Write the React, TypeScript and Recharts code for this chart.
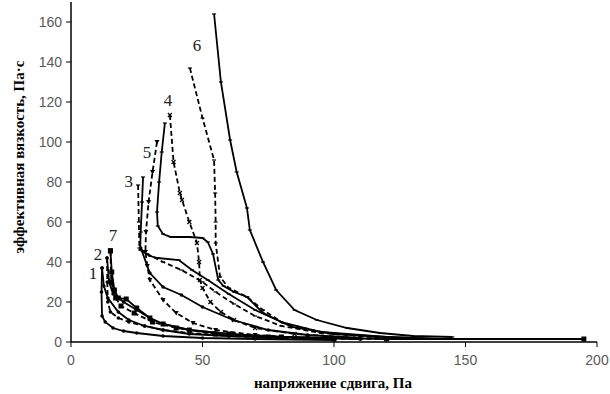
import { ComposedChart, Line, XAxis, YAxis, ReferenceDot, Label } from 'recharts'

type Pt = { x: number; y: number }
const pts = (arr: number[][]): Pt[] => arr.map(([x, y]) => ({ x, y }))

// sample 1
const curve1a = pts([[11.8, 37], [11.6, 25], [11.8, 13], [13, 10], [16, 7], [20, 5.5], [25, 4.5], [35, 3], [50, 2], [70, 1.5], [100, 1]])
const curve1b = pts([[11.8, 37], [12.5, 28], [14, 22], [18, 15], [22, 11], [28, 8], [35, 6], [45, 4], [60, 3], [80, 2]])
// sample 2
const curve2a = pts([[13.7, 42], [13.8, 30], [14, 20], [15, 15], [18, 12], [22, 10], [28, 8], [35, 6], [45, 4.5], [60, 3], [80, 2], [110, 1.5]])
const curve2b = pts([[13.7, 42], [14.5, 30], [16, 24], [20, 20], [25, 16], [30, 12], [35, 9], [45, 6], [60, 4], [80, 2.5], [110, 1.5]])
// sample 7
const curve7a = pts([[15, 45.6], [15.5, 35], [16.5, 26], [18, 22], [21, 21.5], [25, 17], [30, 12], [35, 9], [45, 6], [60, 4], [80, 2.5], [120, 1.5], [195, 1.5]])
const curve7b = pts([[15, 45.6], [15.3, 30], [17, 22], [19, 18], [24, 14.5], [31, 10], [40, 7], [55, 4], [75, 2.5], [100, 1.5]])
// sample 3
const curve3a = pts([[27.4, 82.5], [27, 70], [26.5, 55], [26.3, 46], [30, 43], [33, 42], [41, 41], [46, 36], [52, 31], [60, 24], [70, 16], [80, 10], [95, 5], [120, 2.5], [140, 1.5]])
const curve3b = pts([[25.5, 78.5], [25.8, 60], [26, 47], [29, 44], [35, 40], [42, 36], [50, 30], [55, 25], [62, 19], [70, 13], [80, 8], [95, 4.5], [120, 2]])
const curve3c = pts([[26.5, 47], [30, 34.5], [35, 27.5], [42, 23.5], [50, 17.5], [61.6, 11], [75, 6], [90, 3.5], [110, 2]])
// sample 5
const curve5 = pts([[32.7, 100], [31, 85], [29.5, 70], [28.5, 55], [28.3, 45], [29, 38], [30, 31], [35, 21], [40, 14.5], [46.4, 9.5], [55, 6], [70, 3.5], [90, 2], [120, 1.5]])
// sample 4
const curve4a = pts([[37.6, 113.5], [39, 90], [41.4, 74.5], [42.2, 71], [45, 60], [47.9, 49.5], [48.7, 40], [49, 31], [50, 27], [53, 20], [57, 15], [62, 11], [70, 7], [85, 4], [110, 2]])
const curve4b = pts([[35.7, 109.5], [34.5, 95], [33.5, 80], [32.7, 65], [33, 58], [35, 54], [38, 52.5], [45, 52.5], [50, 52], [52, 50], [54, 44], [56, 31], [58, 28], [62, 25], [67, 22.5], [73, 14.5], [84, 7.5], [100, 4], [120, 2.5], [140, 1.5]])
// sample 6
const curve6a = pts([[54.4, 164], [57, 130], [60.5, 101], [63, 85], [66.9, 67], [68, 56], [73, 40], [78, 26], [85, 16], [93.5, 11], [105, 7], [117.5, 4.5], [130, 3], [145, 2.5]])
const curve6b = pts([[45.2, 137], [50, 112], [54.4, 91], [54.8, 74.5], [55, 60], [55, 49.5], [56.7, 32.5], [60, 27], [67, 22.5], [73, 16], [80.6, 9.5], [95, 5], [115, 2.5], [135, 1.5]])

const X_TICKS = [0, 50, 100, 150, 200]
const Y_TICKS = [0, 20, 40, 60, 80, 100, 120, 140, 160]

const CURVE_LABELS = [
  { text: '1', x: 8.4, y: 34.5 },
  { text: '2', x: 10.3, y: 44 },
  { text: '7', x: 16, y: 53.5 },
  { text: '3', x: 22, y: 80.5 },
  { text: '5', x: 28.9, y: 95 },
  { text: '4', x: 36.9, y: 121 },
  { text: '6', x: 47.9, y: 148.5 },
]

type MarkerKind = 'dot' | 'square' | 'cross' | 'triangle' | 'dash'

const SERIES: { id: string; data: Pt[]; dashed: boolean; marker: MarkerKind }[] = [
  { id: '1a', data: curve1a, dashed: false, marker: 'dot' },
  { id: '1b', data: curve1b, dashed: false, marker: 'dot' },
  { id: '2a', data: curve2a, dashed: true, marker: 'dot' },
  { id: '2b', data: curve2b, dashed: false, marker: 'dot' },
  { id: '7a', data: curve7a, dashed: false, marker: 'square' },
  { id: '7b', data: curve7b, dashed: true, marker: 'square' },
  { id: '3a', data: curve3a, dashed: false, marker: 'dash' },
  { id: '3b', data: curve3b, dashed: true, marker: 'dash' },
  { id: '3c', data: curve3c, dashed: false, marker: 'dot' },
  { id: '5', data: curve5, dashed: true, marker: 'triangle' },
  { id: '4a', data: curve4a, dashed: true, marker: 'cross' },
  { id: '4b', data: curve4b, dashed: false, marker: 'dash' },
  { id: '6a', data: curve6a, dashed: false, marker: 'dash' },
  { id: '6b', data: curve6b, dashed: true, marker: 'dash' },
]

function Marker({ cx, cy, kind }: { cx: number; cy: number; kind: MarkerKind }) {
  if (cx == null || cy == null) return null
  if (kind === 'square') return <rect x={cx - 2.5} y={cy - 2.5} width={5} height={5} fill="#000" />
  if (kind === 'triangle') return <path d={`M${cx - 2.5},${cy - 2} L${cx + 2.5},${cy - 2} L${cx},${cy + 2.5} Z`} fill="#000" />
  if (kind === 'cross')
    return <path d={`M${cx - 2},${cy - 2} L${cx + 2},${cy + 2} M${cx + 2},${cy - 2} L${cx - 2},${cy + 2}`} stroke="#000" strokeWidth={1.2} />
  if (kind === 'dash') return <path d={`M${cx - 2},${cy} L${cx + 2},${cy}`} stroke="#000" strokeWidth={1.2} />
  return <circle cx={cx} cy={cy} r={1.8} fill="#000" />
}

const tickStyle = { fill: '#595959', fontSize: 14, fontFamily: '"Liberation Sans", Arial, sans-serif' }
const titleStyle = { fontFamily: '"Liberation Serif", "Times New Roman", serif', fontWeight: 700, fontSize: 15, fill: '#000' }

export default function App() {
  return (
    <div style={{ position: 'absolute', left: 0, top: 0, background: '#fff' }}>
      <ComposedChart width={610} height={394} margin={{ top: 2, right: 13, bottom: 22, left: 0 }}>
        <XAxis
          type="number"
          dataKey="x"
          domain={[0, 200]}
          ticks={X_TICKS}
          height={30}
          tick={tickStyle}
          tickSize={5}
          tickMargin={8}
          axisLine={{ stroke: '#000', strokeWidth: 1.5 }}
          tickLine={{ stroke: '#000' }}
          allowDuplicatedCategory={false}
        >
          <Label
            content={() => (
              <text x={333} y={388} textAnchor="middle" style={titleStyle}>
                напряжение сдвига, Па
              </text>
            )}
          />
        </XAxis>
        <YAxis
          type="number"
          dataKey="y"
          domain={[0, 170]}
          ticks={Y_TICKS}
          width={71}
          tick={tickStyle}
          tickSize={5}
          tickMargin={4}
          axisLine={{ stroke: '#000', strokeWidth: 1.5 }}
          tickLine={{ stroke: '#000' }}
        >
          <Label
            content={() => (
              <text x={24} y={157} textAnchor="middle" transform="rotate(-90 24 157)" style={titleStyle}>
                эффективная вязкость, Па·с
              </text>
            )}
          />
        </YAxis>
        {SERIES.map((s) => (
          <Line
            key={s.id}
            data={s.data}
            dataKey="y"
            type="linear"
            stroke="#000"
            strokeWidth={1.8}
            strokeDasharray={s.dashed ? '5 3' : undefined}
            isAnimationActive={false}
            dot={(p: any) => <Marker key={`${s.id}-${p.index}`} cx={p.cx} cy={p.cy} kind={s.marker} />}
            activeDot={false}
          />
        ))}
        {CURVE_LABELS.map((l) => (
          <ReferenceDot
            key={l.text}
            x={l.x}
            y={l.y}
            r={0}
            fill="none"
            stroke="none"
            label={{ value: l.text, position: 'center', fill: '#222', fontSize: 17, fontFamily: '"Liberation Serif", serif' }}
          />
        ))}
      </ComposedChart>
    </div>
  )
}
